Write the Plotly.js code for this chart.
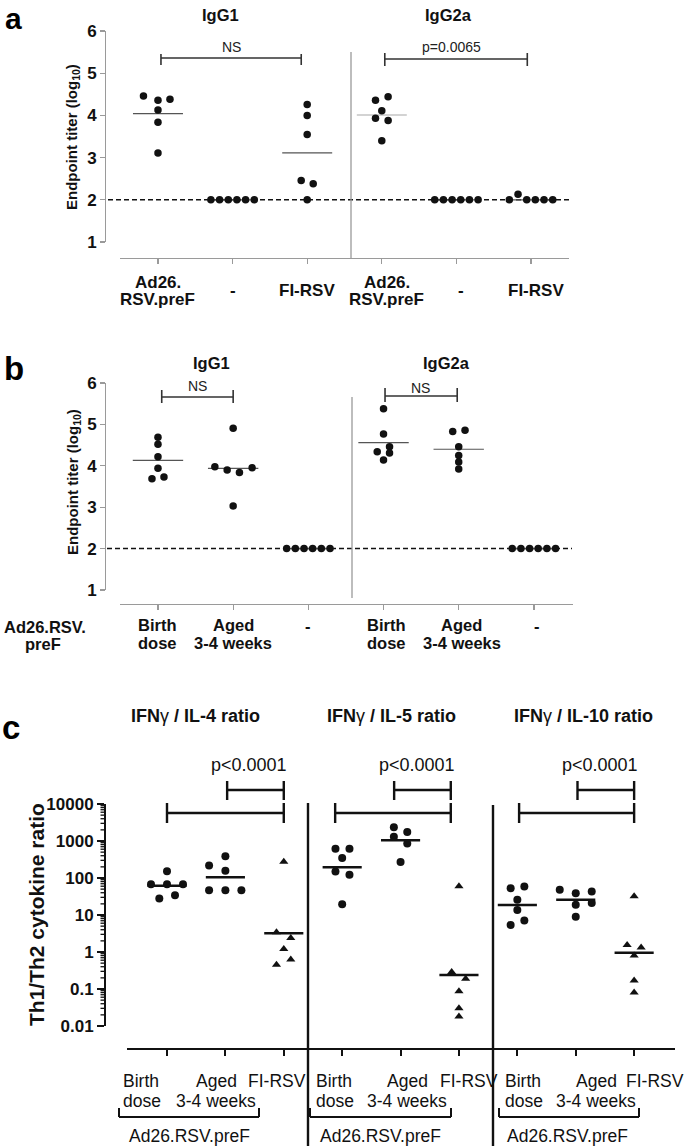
<!DOCTYPE html>
<html><head><meta charset="utf-8">
<script src="https://cdn.plot.ly/plotly-3.0.1.min.js"></script>
<style>html,body{margin:0;padding:0;background:#fff}#chart{width:685px;height:1146px}</style>
</head><body><div id="chart"></div>
<script>
// ================= DATA =================
// Panel a (log10 endpoint titer)
const aCats = ['Ad26.<br>RSV.preF', '-', 'FI-RSV'];
const aIgG1_ad26  = [4.46, 4.36, 4.38, 4.13, 3.84, 3.11];
const aIgG1_mock  = [2.00, 2.00, 2.00, 2.00, 2.00, 2.00];
const aIgG1_fi    = [4.26, 4.00, 3.55, 2.46, 2.38, 2.00];
const aIgG2a_ad26 = [4.36, 4.44, 4.11, 3.93, 3.88, 3.40];
const aIgG2a_mock = [2.00, 2.00, 2.00, 2.00, 2.00, 2.00];
const aIgG2a_fi   = [2.00, 2.13, 2.00, 2.00, 2.00, 2.00];
const aMedIgG1  = [4.04, 2.00, 3.11];
const aMedIgG2a = [4.01, 2.00, 2.00];
const aStats = ['NS', 'p=0.0065'];
// Panel b
const bCats = ['Birth<br>dose', 'Aged<br>3-4 weeks', '-'];
const bIgG1_birth  = [4.69, 4.52, 4.22, 3.94, 3.69, 3.73];
const bIgG1_aged   = [4.91, 3.98, 3.90, 3.84, 3.95, 3.03];
const bIgG1_mock   = [2.00, 2.00, 2.00, 2.00, 2.00, 2.00];
const bIgG2a_birth = [5.38, 4.77, 4.46, 4.34, 4.31, 4.14];
const bIgG2a_aged  = [4.83, 4.86, 4.46, 4.25, 4.09, 3.92];
const bIgG2a_mock  = [2.00, 2.00, 2.00, 2.00, 2.00, 2.00];
const bMedIgG1  = [4.13, 3.94, 2.00];
const bMedIgG2a = [4.56, 4.40, 2.00];
const bStats = ['NS', 'NS'];
// Panel c (Th1/Th2 cytokine ratio)
const cTitles = ['IFN\u03b3 / IL-4 ratio', 'IFN\u03b3 / IL-5 ratio', 'IFN\u03b3 / IL-10 ratio'];
const cIL4_birth  = [152, 68, 68, 68, 28, 34];
const cIL4_aged   = [390, 218, 158, 47, 47, 47];
const cIL4_fi     = [276, 3.4, 2.4, 1.2, 0.63, 0.45];
const cIL5_birth  = [620, 620, 347, 149, 123, 19.5];
const cIL5_aged   = [2340, 1740, 1310, 850, 270];
const cIL5_fi     = [60, 0.29, 0.19, 0.087, 0.030, 0.018];
const cIL10_birth = [53, 59, 26, 13.7, 7.1, 5.4];
const cIL10_aged  = [48, 39, 43.5, 19, 21, 8.9];
const cIL10_fi    = [32, 1.55, 1.32, 0.80, 0.17, 0.080];
const cMedIL4  = [62, 105, 3.2];
const cMedIL5  = [195, 1050, 0.24];
const cMedIL10 = [18.6, 25.9, 0.95];
const cTickVals = [0.01, 0.1, 1, 10, 100, 1000, 10000];
const cTickText = ['0.01', '0.1', '1', '10', '100', '1000', '10000'];
const cStat = 'p&lt;0.0001';

// ================= LAYOUT HELPERS (positions / styles) =================
const W = 685, H = 1146;
const FONT = 'Liberation Sans, Arial, Helvetica, sans-serif';
const GRAY = '#9a9a9a';
const px = x => x / W, py = y => 1 - y / H;
// horizontal scatter offsets (pixels) of the dots inside each column
const row6 = [-21.7, -13, -4.3, 4.3, 13, 21.7];
const offA = [[-14.5, 0, 12, 0, 0, 0], row6, [0, 0, 0, -6, 6, 0],
              [-6.3, 6.3, 0, -6.3, 6.3, 0], row6, row6];
const offB = [[0, 0, 0, 0, -6, 6], [0, -18.3, -6, 6.3, 19, 0], row6,
              [0, 0, 6, -6.3, 6, 0], [-6, 6.3, 0, 0, 0, 0], row6];
const offC = [[0, -16, 0, 16, -7.7, 8], [0, -16.3, 0, -16.3, 0, 16], [0, -7.3, 7, 0, 7, -7.3],
              [-6.7, 7.3, 0, -6.7, 7.3, 0], [-6.7, 6.7, -6.7, 6.7, 0], [0, -7.3, 6.7, 0, 0, 0],
              [-6.7, 7, 0, 0, 7, -6.7], [-16, 0, 16, 0, 16, 0], [0, -7, 7, 0, 0, 0]];
const PPU_A = 74.6, PPU_B = 75.2, PPU_C = 58.4, HALF = 0.335;

const traces = [];
function med(gi, m, xa, ya, color, width) {
  traces.push({type: 'scatter', mode: 'lines', xaxis: xa, yaxis: ya, x: [gi - HALF, gi + HALF], y: [m, m],
    line: {color: color, width: width}, hoverinfo: 'skip'});
}
function pts(vals, offs, gi, ppu, xa, ya, sym, size) {
  traces.push({type: 'scatter', mode: 'markers', xaxis: xa, yaxis: ya,
    x: vals.map((v, i) => gi + offs[i] / ppu), y: vals,
    marker: {symbol: sym, size: size, color: '#111', line: {width: 0}}, hoverinfo: 'skip', cliponaxis: false});
}

// Panel a
const aGroups = [aIgG1_ad26, aIgG1_mock, aIgG1_fi, aIgG2a_ad26, aIgG2a_mock, aIgG2a_fi];
const aMeds = aMedIgG1.concat(aMedIgG2a);
aMeds.forEach((m, i) => med(i, m, 'x', 'y', i === 3 ? '#a8a8a8' : '#555', 1.2));
aGroups.forEach((g, i) => pts(g, offA[i], i, PPU_A, 'x', 'y', 'circle', 7.5));
// Panel b
const bGroups = [bIgG1_birth, bIgG1_aged, bIgG1_mock, bIgG2a_birth, bIgG2a_aged, bIgG2a_mock];
const bMeds = bMedIgG1.concat(bMedIgG2a);
bMeds.forEach((m, i) => med(i, m, 'x2', 'y2', '#555', 1.2));
bGroups.forEach((g, i) => pts(g, offB[i], i, PPU_B, 'x2', 'y2', 'circle', 7.5));
// Panel c
const cGroups = [cIL4_birth, cIL4_aged, cIL4_fi, cIL5_birth, cIL5_aged, cIL5_fi, cIL10_birth, cIL10_aged, cIL10_fi];
const cMeds = cMedIL4.concat(cMedIL5, cMedIL10);
cMeds.forEach((m, i) => med(i, m, 'x3', 'y3', '#111', 2.4));
cGroups.forEach((g, i) => pts(g, offC[i], i, PPU_C, 'x3', 'y3', i % 3 === 2 ? 'triangle-up' : 'circle', 8));

// ================= SHAPES =================
const shapes = [];
function bracket(xref, x0, x1, yLine, yA, yB, color, width) {
  shapes.push({type: 'path', xref: xref, yref: 'paper', layer: 'above',
    path: `M ${x0},${py(yA)} L ${x0},${py(yB)} M ${x0},${py(yLine)} L ${x1},${py(yLine)} M ${x1},${py(yA)} L ${x1},${py(yB)}`,
    line: {color: color, width: width}});
}
function vline(x, y0, y1, color, width) {
  shapes.push({type: 'line', xref: 'paper', yref: 'paper', x0: px(x), x1: px(x), y0: py(y0), y1: py(y1), line: {color: color, width: width}});
}
// dashed detection limit lines
shapes.push({type: 'line', xref: 'paper', yref: 'y', x0: px(108), x1: px(569), y0: 2, y1: 2, layer: 'below', line: {color: '#111', width: 1.5, dash: '5px,3px'}});
shapes.push({type: 'line', xref: 'paper', yref: 'y2', x0: px(107), x1: px(572), y0: 2, y1: 2, layer: 'below', line: {color: '#111', width: 1.5, dash: '5px,3px'}});
// dividers
vline(351, 52, 258, GRAY, 1.3);
vline(352, 397, 598, GRAY, 1.3);
vline(308, 803, 1146, '#111', 2.4);
vline(493, 805, 1146, '#111', 2.4);
// stat brackets
bracket('x', 0.04, 1.92, 58, 54, 65, '#333', 1.6);
bracket('x', 3.04, 4.95, 59, 53, 66, '#333', 1.6);
bracket('x2', 0.05, 1.0, 397, 390, 403, '#333', 1.6);
bracket('x2', 3.02, 3.98, 396, 388, 402, '#333', 1.6);
bracket('x3', 0, 2, 813, 803, 823, '#111', 2.4);
bracket('x3', 1.03, 2, 790, 781, 800, '#111', 2.4);
bracket('x3', 2.88, 4.86, 813, 803, 823, '#111', 2.4);
bracket('x3', 3.89, 4.86, 790, 781, 800, '#111', 2.4);
bracket('x3', 6.03, 8, 813, 803, 823, '#111', 2.4);
bracket('x3', 7.03, 8, 790, 781, 800, '#111', 2.4);
// group brackets under panel c labels
bracket('paper', px(119), px(259), 1117, 1108, 1117, '#111', 2);
bracket('paper', px(310), px(451), 1117, 1108, 1117, '#111', 2);
bracket('paper', px(499), px(639), 1117, 1108, 1117, '#111', 2);
// minor log ticks on the panel c y axis (axis decoration, data values on y3)
const minorVals = [];
for (let e = -2; e < 4; e++) for (let d = 2; d <= 9; d++) minorVals.push(d * Math.pow(10, e));
minorVals.forEach(v => shapes.push({type: 'line', xref: 'paper', yref: 'y3', x0: px(100.5), x1: px(105),
  y0: v, y1: v, line: {color: '#111', width: 1.3}}));

// ================= ANNOTATIONS =================
const ann = [];
function T(text, x, y, o) {
  o = o || {};
  const f = Object.assign({family: FONT, size: 16, color: '#111'}, o.font || {});
  const a = Object.assign({text: text, x: px(x), y: py(y), xref: 'paper', yref: 'paper', showarrow: false,
    xanchor: 'center', yanchor: 'middle'}, o);
  a.font = f;
  ann.push(a);
}
function TD(text, xref, xv, y, o) {
  o = o || {};
  T(text, 0, y, Object.assign({}, o, {xref: xref, x: xv}));
}
// panel letters
T('<b>a</b>', 13, 0, {yanchor: 'top', font: {size: 30, color: '#000'}});
T('<b>b</b>', 14, 368, {font: {size: 33, color: '#000'}});
T('<b>c</b>', 11, 727, {font: {size: 33, color: '#000'}});
// y titles
T('<b>Endpoint titer (log<sub>10</sub>)</b>', 73, 137, {textangle: -90, font: {size: 15}});
T('<b>Endpoint titer (log<sub>10</sub>)</b>', 73, 482, {textangle: -90, font: {size: 15}});
T('<b>Th1/Th2 cytokine ratio</b>', 36, 915, {textangle: -90, font: {size: 21}});
// subplot titles
T('<b>IgG1</b>', 220, 15, {font: {size: 16.5}});
T('<b>IgG2a</b>', 448, 15, {font: {size: 16.5}});
T('<b>IgG1</b>', 211, 363, {font: {size: 16.5}});
T('<b>IgG2a</b>', 447, 363, {font: {size: 16.5}});
[195, 391, 583].forEach((x, i) => {
  const parts = cTitles[i].split('\u03b3');
  T('<b>' + parts[0] + '</b>\u03b3<b>' + parts[1] + '</b>', x, 716, {font: {size: 18}});
});
// stats
T(aStats[0], 231, 47, {font: {size: 14, color: '#222'}});
T(aStats[1], 452, 47, {font: {size: 14, color: '#222'}});
T(bStats[0], 197, 386, {font: {size: 14, color: '#222'}});
T(bStats[1], 420, 388, {font: {size: 14, color: '#222'}});
[249, 417, 600].forEach(x => T(cStat, x, 765, {font: {size: 18, color: '#111'}}));
// panel a category labels
for (let i = 0; i < 6; i++) {
  const c = i % 3, xs = i < 3 ? 0 : 5;
  const lines = aCats[c].split('<br>');
  if (lines.length === 2) {
    TD('<b>' + lines[0] + '</b>', 'x', i, 282, {xshift: xs, font: {size: 17}});
    TD('<b>' + lines[1] + '</b>', 'x', i, 300, {xshift: xs, font: {size: 17}});
  } else {
    TD('<b>' + lines[0] + '</b>', 'x', i, 290, {xshift: xs, font: {size: 17}});
  }
}
// panel b category labels
for (let i = 0; i < 6; i++) {
  const c = i % 3, xs = i < 3 ? 0 : 3;
  const lines = bCats[c].split('<br>');
  if (lines.length === 2) {
    TD('<b>' + lines[0] + '</b>', 'x2', i, 625, {xshift: xs, font: {size: 16.5}});
    TD('<b>' + lines[1] + '</b>', 'x2', i, 643, {xshift: xs, font: {size: 16.5}});
  } else {
    TD('<b>' + lines[0] + '</b>', 'x2', i, 626, {xshift: xs, font: {size: 16.5}});
  }
}
T('<b>Ad26.RSV.</b>', 45, 627, {font: {size: 16.5}});
T('<b>preF</b>', 43, 644, {font: {size: 16.5}});
// panel c bottom labels
const birthX = [121, 314, 503], agedX = [216, 407, 596], fiX = [277, 469, 655], adX = [189, 380, 567];
for (let g = 0; g < 3; g++) {
  T('Birth', birthX[g], 1081, {xanchor: 'left', font: {size: 17.5}});
  T('dose', birthX[g], 1101, {xanchor: 'left', font: {size: 17.5}});
  T('Aged', agedX[g], 1081, {font: {size: 17.5}});
  T('3-4 weeks', agedX[g], 1101, {font: {size: 17.5}});
  T('FI-RSV', fiX[g], 1081, {font: {size: 17.5}});
  T('Ad26.RSV.preF', adX[g], 1136, {font: {size: 17.5}});
}

// ================= AXES =================
const base = {showgrid: false, zeroline: false, fixedrange: true};
const tickFontBold = {family: FONT, size: 17, color: '#111', weight: 'bold'};

const layout = {
  width: W, height: H, margin: {l: 0, r: 0, t: 0, b: 0},
  paper_bgcolor: '#fff', plot_bgcolor: 'rgba(0,0,0,0)', showlegend: false,
  font: {family: FONT, color: '#111'},
  xaxis: Object.assign({}, base, {domain: [px(120), px(569)], range: [-0.509, 5.509], anchor: 'free', position: py(258),
    showline: true, linecolor: GRAY, linewidth: 1.3, ticks: 'outside', ticklen: 5, tickwidth: 1.2, tickcolor: GRAY,
    tickmode: 'array', tickvals: [0, 1, 2, 3, 4, 5], showticklabels: false}),
  yaxis: Object.assign({}, base, {domain: [py(242), py(31)], range: [1, 6], anchor: 'free', position: px(105),
    showline: true, linecolor: GRAY, linewidth: 1.3, ticks: 'outside', ticklen: 5, tickwidth: 1.2, tickcolor: GRAY,
    tickmode: 'array', tickvals: [1, 2, 3, 4, 5, 6], tickfont: tickFontBold}),
  xaxis2: Object.assign({}, base, {domain: [px(120), px(573)], range: [-0.505, 5.52], anchor: 'free', position: py(604),
    showline: true, linecolor: GRAY, linewidth: 1.3, ticks: 'outside', ticklen: 5, tickwidth: 1.2, tickcolor: GRAY,
    tickmode: 'array', tickvals: [0, 1, 2, 3, 4, 5], showticklabels: false}),
  yaxis2: Object.assign({}, base, {domain: [py(590), py(383)], range: [1, 6], anchor: 'free', position: px(105),
    showline: true, linecolor: GRAY, linewidth: 1.3, ticks: 'outside', ticklen: 5, tickwidth: 1.2, tickcolor: GRAY,
    tickmode: 'array', tickvals: [1, 2, 3, 4, 5, 6], tickfont: tickFontBold}),
  xaxis3: Object.assign({}, base, {domain: [px(127), px(675)], range: [-0.685, 8.70], anchor: 'free', position: py(1049),
    showline: true, linecolor: '#111', linewidth: 2.4, ticks: 'outside', ticklen: 6, tickwidth: 2, tickcolor: '#111',
    tickmode: 'array', tickvals: [0, 1, 2, 3, 4, 5, 6, 7, 8], showticklabels: false}),
  yaxis3: Object.assign({}, base, {type: 'log', domain: [py(1026), py(804)], range: [-2, 4], anchor: 'free', position: px(105),
    showline: true, linecolor: '#111', linewidth: 2.4, ticks: 'outside', ticklen: 7, tickwidth: 2, tickcolor: '#111',
    tickmode: 'array', tickvals: cTickVals, ticktext: cTickText, tickfont: tickFontBold}),
  shapes: shapes,
  annotations: ann
};

Plotly.newPlot('chart', traces, layout, {staticPlot: true, displayModeBar: false});
</script>
</body></html>
